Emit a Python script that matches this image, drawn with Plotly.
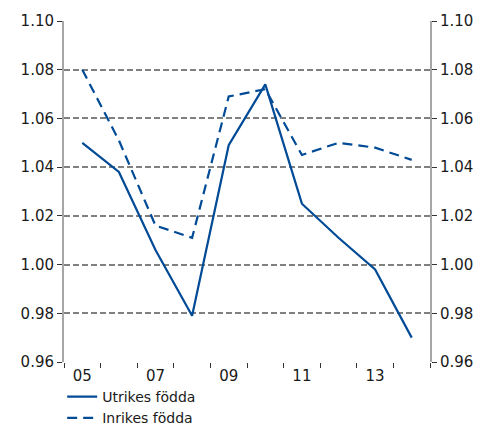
import plotly.graph_objects as go

years = ["05", "06", "07", "08", "09", "10", "11", "12", "13", "14"]
tick_text = ["05", "", "07", "", "09", "", "11", "", "13", ""]
utrikes = [1.050, 1.038, 1.006, 0.979, 1.049, 1.074, 1.025, 1.011, 0.998, 0.970]
inrikes = [1.080, 1.051, 1.016, 1.011, 1.069, 1.072, 1.045, 1.050, 1.048, 1.043]
y_ticks = [0.96, 0.98, 1.00, 1.02, 1.04, 1.06, 1.08, 1.10]

color = "#004a96"
font = dict(family="Verdana, DejaVu Sans, sans-serif", size=15, color="#1a1a1a")
legend_font = dict(family="Verdana, DejaVu Sans, sans-serif", size=14, color="#1a1a1a")

fig = go.Figure()
fig.add_trace(go.Scatter(x=years, y=utrikes, mode="lines", name="Utrikes födda",
                         line=dict(color=color, width=2.2)))
fig.add_trace(go.Scatter(x=years, y=inrikes, mode="lines", name="Inrikes födda",
                         line=dict(color=color, width=2.2, dash="10px,6px")))
fig.add_trace(go.Scatter(x=years, y=utrikes, yaxis="y2", mode="lines",
                         line=dict(width=0), showlegend=False, hoverinfo="skip"))

yax = dict(range=[0.96, 1.10], tickvals=y_ticks, ticktext=[f"{v:.2f}" for v in y_ticks],
           showline=True, linecolor="#a6a6a6", linewidth=2, ticks="outside",
           ticklen=5, tickcolor="#333333", tickwidth=1.2, zeroline=False, tickfont=font,
           automargin=False)

# page body has an 8px default margin; margins are compensated for it
fig.update_layout(
    width=486, height=426,
    margin=dict(l=56, r=64, t=13, b=72, autoexpand=False),
    plot_bgcolor="white", paper_bgcolor="white",
    font=font,
    xaxis=dict(type="category", tickmode="array", tickvals=years, ticktext=tick_text,
               range=[-0.5, 9.5], tickson="boundaries", ticks="outside", ticklen=5,
               tickcolor="#333333", tickwidth=1.2, showline=False, showgrid=False,
               zeroline=False, tickfont=font, automargin=False, ticklabelstandoff=3,
               tickangle=0),
    yaxis=dict(**yax, side="left", showgrid=True, gridcolor="#808080", griddash="6px,3px",
               gridwidth=1.5),
    yaxis2=dict(**yax, side="right", overlaying="y", showgrid=False),
    legend=dict(x=-0.005, y=-0.056, xanchor="left", yanchor="top", orientation="v",
                font=legend_font, bgcolor="rgba(0,0,0,0)", tracegroupgap=0, itemwidth=30),
    showlegend=True,
)

fig.write_html("out.html")
